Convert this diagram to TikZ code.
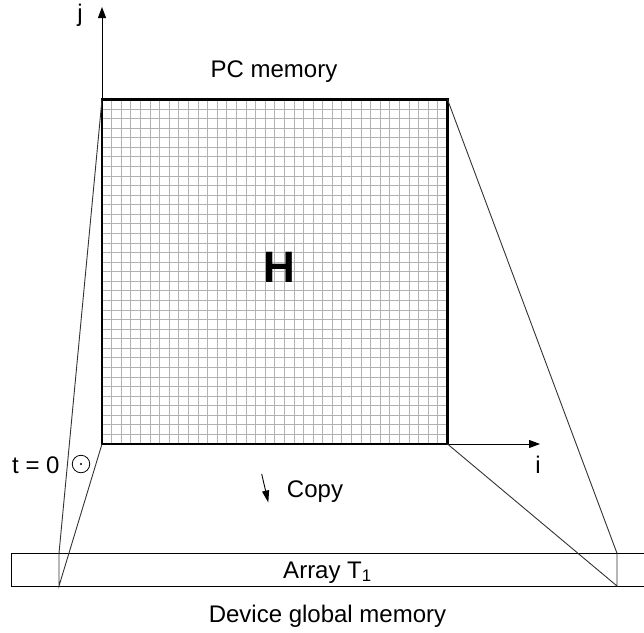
\documentclass[tikz,border=0pt]{standalone}
\usepackage{fontspec}
\setmainfont{Liberation Sans}
\usetikzlibrary{arrows.meta}
\begin{document}
\begin{tikzpicture}[x=1pt,y=-1pt,
  lbl/.style={inner sep=0pt,anchor=base,font=\fontsize{24}{28}\selectfont},
  gridline/.style={draw=black!30,line width=0.9pt},
  border/.style={draw=black,line width=2.8pt,line join=miter},
  proj/.style={draw=black!80,line width=0.9pt},
  arr/.style={draw=black,line width=0.9pt},
  axis/.style={draw=black,line width=1pt,-{Triangle[length=11pt,width=8pt]}}]
\useasboundingbox (0,0) rectangle (644,632);
% corners of H
\coordinate (TL) at (102,99.5);
\coordinate (TR) at (447.5,99.5);
\coordinate (BL) at (102,444);
\coordinate (BR) at (447.5,444);
% projection points on the array
\coordinate (LT) at (59,553.3);
\coordinate (LB) at (59,586);
\coordinate (RT) at (617,553.3);
\coordinate (RB) at (617,586);
\coordinate (jtip) at (102,7);
\coordinate (itip) at (540,444);
% grid
\foreach \k in {1,...,35}{
  \draw[gridline] ({102+\k*345.5/36},99.5) -- ({102+\k*345.5/36},444);
  \draw[gridline] (102,{99.5+\k*344.5/36}) -- (447.5,{99.5+\k*344.5/36});
}
\draw[border] (TL) -- (TR) -- (BR) -- (BL) -- cycle;
\node[inner sep=0pt,font=\fontsize{44}{48}\selectfont\bfseries] (H) at (279,267) {H};
% axes
\draw[axis] (TL) -- (jtip);
\draw[axis] (BR) -- (itip);
\node[lbl] (j) at (80,21) {j};
\node[lbl] (i) at (538,473) {i};
\node[lbl] (pc) at (274,77) {PC memory};
% time marker
\node[lbl,anchor=base west] (t0) at (12,473) {t = 0};
\node[draw=black,line width=0.8pt,circle,minimum size=17.5pt,inner sep=0pt] (dot) at (81,464) {};
\fill (dot.center) circle (1.1pt);
% array
\draw[line width=0.9pt] (644,553.3) -- (11.7,553.3) -- (11.7,586) -- (644,586);
\node[lbl] (arr) at (327.5,578) {Array T\textsubscript{1}};
\node[lbl] (dev) at (327.5,622) {Device global memory};
% projection lines
\draw[proj] (TL) -- (LT) -- (LB) -- (BL);
\draw[proj] (TR) -- (RT) -- (RB) -- (BR);
% copy
\coordinate (c1) at (261.7,474);
\coordinate (c2) at (268.3,502.5);
\draw[arr,-{Triangle[length=12pt,width=7pt]}] (c1) -- (c2);
\node[lbl] (copy) at (315,497) {Copy};
\end{tikzpicture}
\end{document}
